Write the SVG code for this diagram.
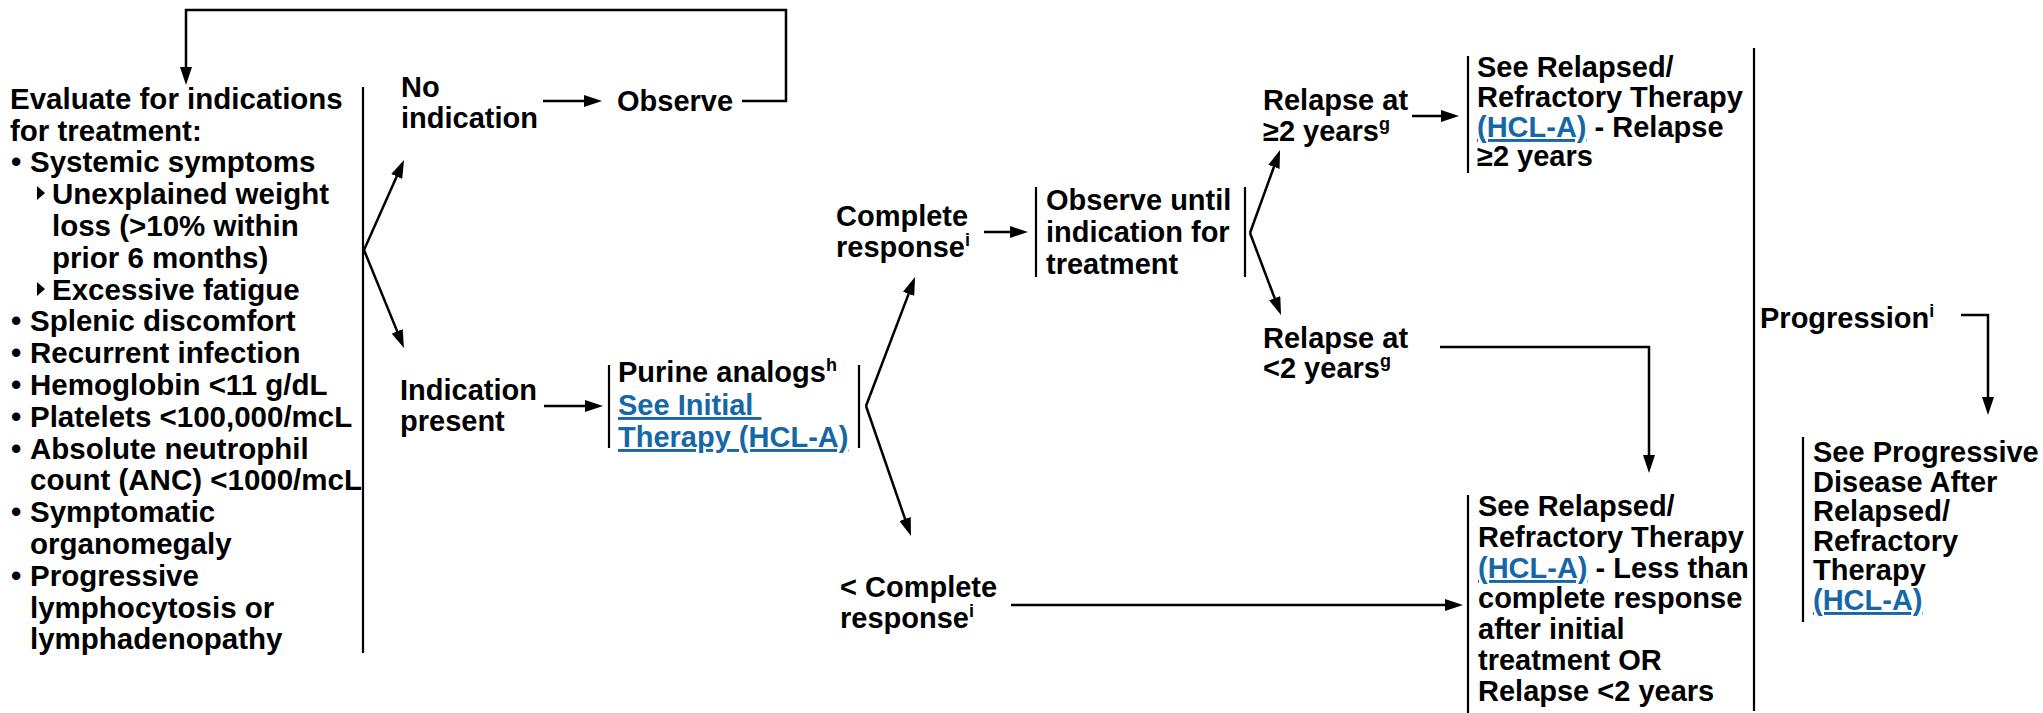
<svg xmlns="http://www.w3.org/2000/svg" width="2043" height="713" viewBox="0 0 2043 713">
<style>
text{font-family:"Liberation Sans",Arial,Helvetica,sans-serif;font-weight:bold;font-size:29px;fill:#000}
#evaluate text{font-size:29.5px}
.lnk{fill:#1667a7;text-decoration:underline}
.sup{font-size:18px}
.bar{stroke:#000;stroke-width:2.2;fill:none}
.conn{stroke:#000;stroke-width:2.5;fill:none}
</style>
<defs>
<marker id="ah" markerUnits="userSpaceOnUse" markerWidth="18" markerHeight="12" refX="12" refY="6" orient="auto">
<path d="M0,0 L18,6 L0,12 Z" fill="#000"/>
</marker>
</defs>
<rect width="2043" height="713" fill="#fff"/>

<g id="evaluate">
<text x="10" y="109">Evaluate for indications</text>
<text x="10" y="141">for treatment:</text>
<text x="11" y="172">•</text><text x="30" y="172">Systemic symptoms</text>
<polygon points="37,186 45,193 37,200" fill="#000"/>
<text x="52" y="204">Unexplained weight</text>
<text x="52" y="236">loss (&gt;10% within</text>
<text x="52" y="268">prior 6 months)</text>
<polygon points="37,282 45,289 37,296" fill="#000"/>
<text x="52" y="300">Excessive fatigue</text>
<text x="11" y="331">•</text><text x="30" y="331">Splenic discomfort</text>
<text x="11" y="363">•</text><text x="30" y="363">Recurrent infection</text>
<text x="11" y="395">•</text><text x="30" y="395">Hemoglobin &lt;11 g/dL</text>
<text x="11" y="427">•</text><text x="30" y="427">Platelets &lt;100,000/mcL</text>
<text x="11" y="459">•</text><text x="30" y="459">Absolute neutrophil</text>
<text x="30" y="490">count (ANC) &lt;1000/mcL</text>
<text x="11" y="522">•</text><text x="30" y="522">Symptomatic</text>
<text x="30" y="554">organomegaly</text>
<text x="11" y="586">•</text><text x="30" y="586">Progressive</text>
<text x="30" y="618">lymphocytosis or</text>
<text x="30" y="649">lymphadenopathy</text>
<line class="bar" x1="363" y1="87" x2="363" y2="653"/>
</g>

<g id="no-indication">
<text x="401" y="97">No</text>
<text x="401" y="128">indication</text>
</g>

<g id="observe">
<text x="617" y="111">Observe</text>
</g>

<g id="indication-present">
<text x="400" y="400">Indication</text>
<text x="400" y="431">present</text>
</g>

<g id="purine">
<line class="bar" x1="609" y1="365" x2="609" y2="448"/>
<line class="bar" x1="859" y1="365" x2="859" y2="448"/>
<text x="618" y="382">Purine analogs<tspan class="sup" dy="-11">h</tspan></text>
<text x="618" y="415" class="lnk">See Initial&#160;</text>
<text x="618" y="447" class="lnk">Therapy (HCL-A)</text>
</g>

<g id="complete-response">
<text x="836" y="226">Complete</text>
<text x="836" y="257">response<tspan class="sup" dy="-11">i</tspan></text>
</g>

<g id="less-complete">
<text x="840" y="597">&lt; Complete</text>
<text x="840" y="628">response<tspan class="sup" dy="-11">i</tspan></text>
</g>

<g id="observe-until">
<line class="bar" x1="1036" y1="187" x2="1036" y2="277"/>
<line class="bar" x1="1245" y1="187" x2="1245" y2="277"/>
<text x="1046" y="210">Observe until</text>
<text x="1046" y="242">indication for</text>
<text x="1046" y="274">treatment</text>
</g>

<g id="relapse-ge2">
<text x="1263" y="110">Relapse at</text>
<text x="1263" y="141">≥2 years<tspan class="sup" dy="-11">g</tspan></text>
</g>

<g id="relapse-lt2">
<text x="1263" y="348">Relapse at</text>
<text x="1263" y="378">&lt;2 years<tspan class="sup" dy="-11">g</tspan></text>
</g>

<g id="see-relapsed-ge2">
<line class="bar" x1="1468" y1="56" x2="1468" y2="173"/>
<text x="1477" y="77">See Relapsed/</text>
<text x="1477" y="107">Refractory Therapy</text>
<text x="1477" y="137"><tspan class="lnk">(HCL-A)</tspan> - Relapse</text>
<text x="1477" y="166">≥2 years</text>
</g>

<g id="see-relapsed-lt2">
<line class="bar" x1="1468" y1="495" x2="1468" y2="713"/>
<text x="1478" y="516">See Relapsed/</text>
<text x="1478" y="547">Refractory Therapy</text>
<text x="1478" y="578"><tspan class="lnk">(HCL-A)</tspan> - Less than</text>
<text x="1478" y="608">complete response</text>
<text x="1478" y="639">after initial</text>
<text x="1478" y="670">treatment OR</text>
<text x="1478" y="701">Relapse &lt;2 years</text>
</g>

<g id="progression">
<line class="bar" x1="1754" y1="48" x2="1754" y2="711"/>
<text x="1760" y="328">Progression<tspan class="sup" dy="-11">i</tspan></text>
</g>

<g id="see-progressive">
<line class="bar" x1="1803" y1="437" x2="1803" y2="622"/>
<text x="1813" y="462">See Progressive</text>
<text x="1813" y="492">Disease After</text>
<text x="1813" y="521">Relapsed/</text>
<text x="1813" y="551">Refractory</text>
<text x="1813" y="580">Therapy</text>
<text x="1813" y="610" class="lnk">(HCL-A)</text>
</g>

<g id="connectors">
<polyline class="conn" points="742,101 786,101 786,10 186,10 186,79" marker-end="url(#ah)"/>
<line class="conn" x1="543" y1="101" x2="596" y2="101" marker-end="url(#ah)"/>
<line class="conn" x1="364" y1="250" x2="401.6" y2="165.5" marker-end="url(#ah)"/>
<line class="conn" x1="364" y1="250" x2="401.7" y2="342.4" marker-end="url(#ah)"/>
<line class="conn" x1="544" y1="406" x2="597" y2="406" marker-end="url(#ah)"/>
<line class="conn" x1="866" y1="406" x2="912.9" y2="282.6" marker-end="url(#ah)"/>
<line class="conn" x1="866" y1="406" x2="909" y2="530.3" marker-end="url(#ah)"/>
<line class="conn" x1="984" y1="232" x2="1022" y2="232" marker-end="url(#ah)"/>
<line class="conn" x1="1250" y1="233" x2="1278" y2="155.6" marker-end="url(#ah)"/>
<line class="conn" x1="1250" y1="233" x2="1278.9" y2="309.4" marker-end="url(#ah)"/>
<line class="conn" x1="1412" y1="116" x2="1453" y2="116" marker-end="url(#ah)"/>
<polyline class="conn" points="1440,347 1649,347 1649,467" marker-end="url(#ah)"/>
<line class="conn" x1="1011" y1="605" x2="1457" y2="605" marker-end="url(#ah)"/>
<polyline class="conn" points="1961,315 1988,315 1988,409" marker-end="url(#ah)"/>
</g>
</svg>
